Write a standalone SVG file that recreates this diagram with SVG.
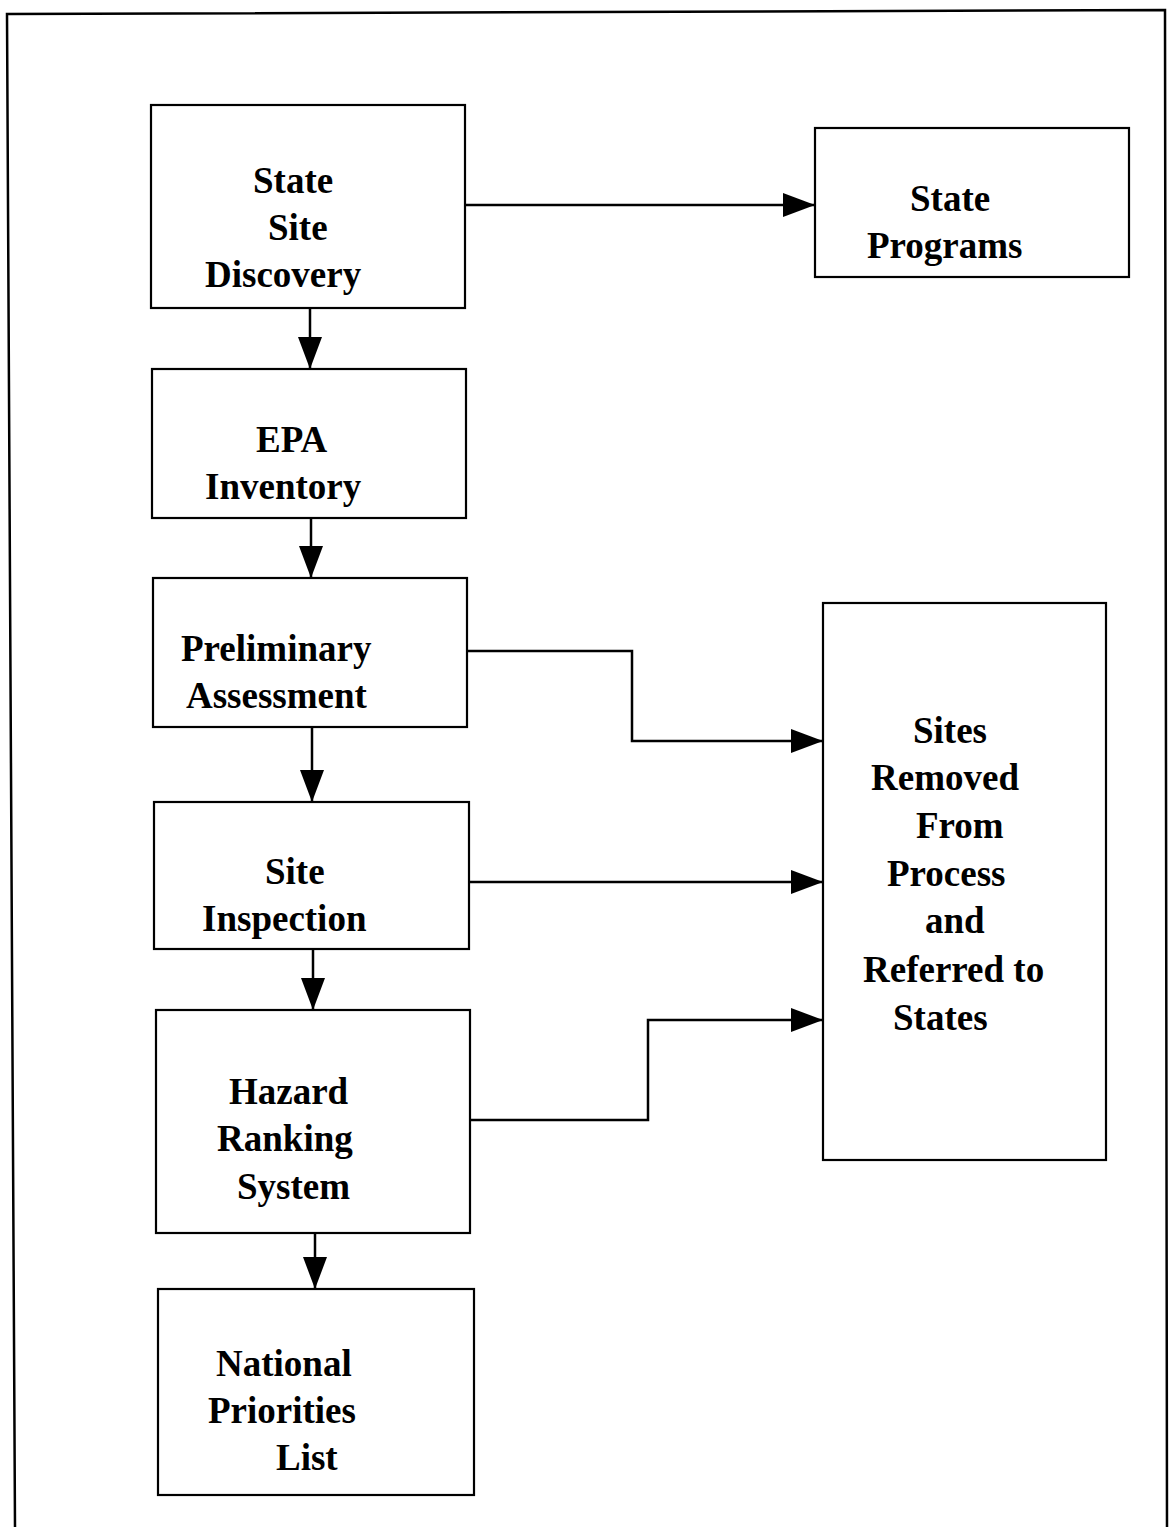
<svg xmlns="http://www.w3.org/2000/svg" width="1169" height="1527" viewBox="0 0 1169 1527">
<defs>
<style>
.box{fill:none;stroke:#000;stroke-width:2.2}
.t{font-family:"Liberation Serif","Times New Roman",serif;font-weight:bold;font-size:37px;fill:#000}
.c{fill:none;stroke:#000;stroke-width:2.5}
.frame{fill:none;stroke:#000;stroke-width:2.5}
</style>
<marker id="ah" viewBox="0 0 32 24" refX="32" refY="12" markerWidth="32" markerHeight="24" markerUnits="userSpaceOnUse" orient="auto">
<path d="M0,0 L32,12 L0,24 Z" fill="#000"/>
</marker>
</defs>
<rect width="1169" height="1527" fill="#fff"/>
<polyline class="frame" points="15,1527 7,14 1165,10 1167,1527"/>
<g id="n1"><rect class="box" x="151" y="105" width="314" height="203"/>
<text class="t" x="253" y="193">State</text><text class="t" x="268" y="240">Site</text><text class="t" x="205" y="287">Discovery</text></g>
<g id="n2"><rect class="box" x="815" y="128" width="314" height="149"/>
<text class="t" x="910" y="211">State</text><text class="t" x="867" y="258">Programs</text></g>
<g id="n3"><rect class="box" x="152" y="369" width="314" height="149"/>
<text class="t" x="256" y="452">EPA</text><text class="t" x="205" y="499">Inventory</text></g>
<g id="n4"><rect class="box" x="153" y="578" width="314" height="149"/>
<text class="t" x="181" y="661">Preliminary</text><text class="t" x="186" y="708">Assessment</text></g>
<g id="n5"><rect class="box" x="154" y="802" width="315" height="147"/>
<text class="t" x="265" y="884">Site</text><text class="t" x="202" y="931">Inspection</text></g>
<g id="n6"><rect class="box" x="156" y="1010" width="314" height="223"/>
<text class="t" x="229" y="1104">Hazard</text><text class="t" x="217" y="1151">Ranking</text><text class="t" x="237" y="1199">System</text></g>
<g id="n7"><rect class="box" x="158" y="1289" width="316" height="206"/>
<text class="t" x="216" y="1376">National</text><text class="t" x="208" y="1423">Priorities</text><text class="t" x="276" y="1470">List</text></g>
<g id="n8"><rect class="box" x="823" y="603" width="283" height="557"/>
<text class="t" x="913" y="743">Sites</text><text class="t" x="871" y="790">Removed</text><text class="t" x="916" y="838">From</text><text class="t" x="887" y="886">Process</text><text class="t" x="925" y="933">and</text><text class="t" x="863" y="982">Referred to</text><text class="t" x="893" y="1030">States</text></g>
<g id="connectors">
<line class="c" x1="465" y1="205" x2="815" y2="205" marker-end="url(#ah)"/>
<line class="c" x1="310" y1="308" x2="310" y2="369" marker-end="url(#ah)"/>
<line class="c" x1="311" y1="518" x2="311" y2="578" marker-end="url(#ah)"/>
<line class="c" x1="312" y1="727" x2="312" y2="802" marker-end="url(#ah)"/>
<line class="c" x1="313" y1="949" x2="313" y2="1010" marker-end="url(#ah)"/>
<line class="c" x1="315" y1="1233" x2="315" y2="1289" marker-end="url(#ah)"/>
<polyline class="c" points="467,651 632,651 632,741 823,741" marker-end="url(#ah)"/>
<line class="c" x1="469" y1="882" x2="823" y2="882" marker-end="url(#ah)"/>
<polyline class="c" points="470,1120 648,1120 648,1020 823,1020" marker-end="url(#ah)"/>
</g>
</svg>
